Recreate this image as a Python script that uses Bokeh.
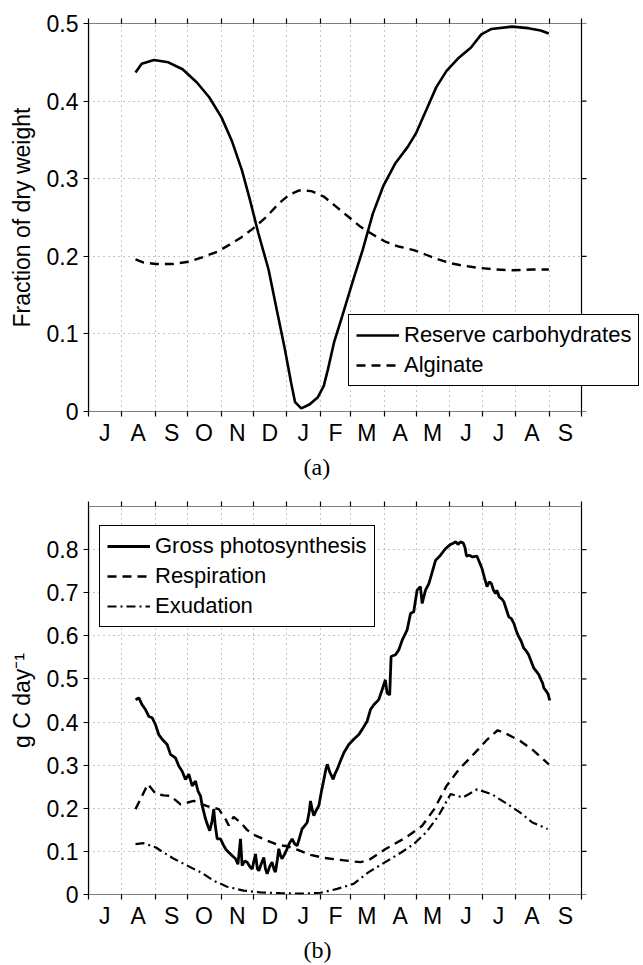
from bokeh.plotting import figure
from bokeh.models import (Range1d, FixedTicker, LinearAxis, NumeralTickFormatter,
                          Legend, LegendItem, BoxAnnotation)
from bokeh.layouts import column
from bokeh.embed import file_html
from bokeh.resources import INLINE

# ---------------- data ----------------
month_letters = ["J", "A", "S", "O", "N", "D", "J", "F", "M", "A", "M", "J", "J", "A", "S"]
month_starts = [0, 31, 62, 92, 123, 153, 184, 215, 243, 274, 304, 335, 365, 396, 427, 457]

# (a) Reserve carbohydrates (day since 1 July, fraction of dry weight)
carb_day = [43.6, 49.3, 60.7, 74.0, 87.2, 100.5, 111.9, 123.3, 132.8, 142.2, 149.8, 157.4,
            166.9, 174.5, 182.1, 187.8, 191.5, 197.2, 204.8, 212.4, 218.1, 221.9, 227.6,
            235.2, 244.6, 254.1, 263.6, 273.1, 284.5, 295.9, 303.4, 312.9, 322.4, 331.9,
            343.3, 354.6, 364.1, 373.6, 392.6, 407.7, 419.1, 426.7]
carb_val = [0.437, 0.448, 0.453, 0.450, 0.441, 0.424, 0.405, 0.379, 0.349, 0.311, 0.272, 0.230,
            0.183, 0.131, 0.080, 0.037, 0.012, 0.004, 0.009, 0.018, 0.033, 0.054, 0.089,
            0.123, 0.166, 0.208, 0.255, 0.290, 0.320, 0.341, 0.358, 0.388, 0.418, 0.439,
            0.456, 0.469, 0.486, 0.493, 0.496, 0.494, 0.491, 0.487]

# (a) Alginate
alg_day = [43.6, 51.2, 62.6, 77.8, 93.0, 108.1, 119.5, 130.9, 142.2, 153.6, 165.0, 176.4,
           185.9, 195.3, 206.7, 218.1, 229.5, 240.9, 252.2, 263.6, 275.0, 286.4, 301.5,
           312.9, 324.3, 335.7, 347.0, 362.2, 377.4, 392.6, 411.5, 426.7]
alg_val = [0.196, 0.192, 0.190, 0.190, 0.193, 0.200, 0.206, 0.215, 0.225, 0.237, 0.251, 0.268,
           0.279, 0.285, 0.284, 0.277, 0.264, 0.251, 0.238, 0.228, 0.219, 0.213, 0.208,
           0.202, 0.196, 0.191, 0.188, 0.185, 0.183, 0.182, 0.183, 0.183]

# (b) Gross photosynthesis (g C per day)
gp_day = [43.6, 46.7, 49.7, 52.8, 55.9, 59.0, 62.1, 65.1, 68.3, 72.9, 76.0, 80.6, 83.7, 86.8,
          89.9, 93.0, 96.1, 99.2, 101.5, 103.8, 105.4, 107.0, 108.5, 110.5, 112.4, 114.5,
          116.1, 117.5, 119.3, 122.4, 125.0, 127.0, 129.0, 131.6, 134.0, 136.3, 138.5, 140.9,
          142.4, 145.0, 147.1, 149.5, 151.7, 154.8, 156.5, 157.9, 160.0, 162.5, 164.0, 165.6,
          168.0, 170.2, 172.0, 173.3, 175.0, 176.4, 178.0, 179.5, 182.0, 184.1, 186.5, 188.8,
          191.0, 193.4, 196.0, 198.0, 200.5, 202.7, 204.5, 205.8, 207.5, 208.9, 211.0, 213.5,
          216.0, 218.2, 220.0, 221.3, 223.5, 226.8, 228.5, 230.5, 233.6, 236.7, 241.3, 245.9,
          250.6, 253.7, 258.3, 261.4, 264.5, 269.1, 272.2, 275.2, 276.8, 279.2, 280.5, 284.6,
          287.6, 290.8, 295.4, 298.5, 301.5, 304.6, 307.7, 309.3, 312.4, 315.5, 318.6, 321.7,
          326.3, 330.9, 335.6, 338.0, 340.5, 342.5, 344.8, 347.5, 349.0, 350.4, 353.0, 356.0,
          360.0, 362.5, 364.8, 367.0, 369.4, 371.5, 373.5, 375.5, 377.3, 378.5, 380.8, 383.0,
          385.0, 387.5, 389.6, 392.0, 394.3, 396.5, 398.8, 401.0, 403.5, 405.5, 408.0, 410.5,
          412.8, 415.0, 417.4, 419.5, 421.0, 422.1, 424.5, 426.0, 427.6]
gp_val = [0.452, 0.456, 0.440, 0.429, 0.413, 0.410, 0.394, 0.371, 0.360, 0.348, 0.325, 0.317,
          0.298, 0.286, 0.267, 0.279, 0.252, 0.263, 0.240, 0.229, 0.206, 0.190, 0.175, 0.160,
          0.148, 0.170, 0.198, 0.160, 0.129, 0.129, 0.115, 0.106, 0.100, 0.094, 0.088, 0.083,
          0.070, 0.129, 0.067, 0.078, 0.075, 0.065, 0.059, 0.094, 0.060, 0.055, 0.070, 0.086,
          0.060, 0.048, 0.065, 0.075, 0.058, 0.052, 0.080, 0.106, 0.090, 0.083, 0.095, 0.106,
          0.120, 0.129, 0.118, 0.113, 0.135, 0.152, 0.160, 0.167, 0.190, 0.217, 0.195, 0.183,
          0.195, 0.206, 0.240, 0.267, 0.290, 0.302, 0.285, 0.267, 0.280, 0.290, 0.310, 0.329,
          0.348, 0.360, 0.371, 0.383, 0.402, 0.429, 0.440, 0.452, 0.475, 0.498, 0.467, 0.463,
          0.552, 0.556, 0.567, 0.590, 0.614, 0.652, 0.656, 0.706, 0.714, 0.675, 0.706, 0.721,
          0.748, 0.775, 0.787, 0.802, 0.812, 0.815, 0.818, 0.812, 0.818, 0.815, 0.805, 0.785,
          0.787, 0.783, 0.785, 0.770, 0.756, 0.735, 0.714, 0.725, 0.721, 0.705, 0.698, 0.706,
          0.690, 0.686, 0.679, 0.660, 0.644, 0.640, 0.629, 0.612, 0.598, 0.588, 0.571, 0.566,
          0.556, 0.540, 0.525, 0.518, 0.510, 0.498, 0.490, 0.479, 0.471, 0.465, 0.450]

# (b) Respiration
resp_day = [43.6, 55.0, 62.6, 70.0, 75.9, 85.3, 97.6, 110.0, 120.8, 127.0, 130.0, 134.5,
            141.0, 147.0, 152.0, 160.9, 175.5, 184.0, 193.4, 205.8, 218.2, 230.5, 244.4,
            252.2, 259.8, 275.0, 294.0, 309.1, 320.5, 331.9, 343.3, 358.4, 369.8, 379.3,
            388.8, 400.2, 411.5, 426.7]
resp_val = [0.198, 0.256, 0.233, 0.230, 0.229, 0.209, 0.217, 0.205, 0.198, 0.175, 0.160, 0.180,
            0.167, 0.150, 0.140, 0.130, 0.115, 0.112, 0.104, 0.092, 0.085, 0.081, 0.077,
            0.075, 0.080, 0.105, 0.132, 0.159, 0.198, 0.252, 0.290, 0.329, 0.360, 0.381,
            0.371, 0.356, 0.336, 0.302]

# (b) Exudation
exu_day = [43.6, 51.2, 62.6, 66.7, 79.1, 91.5, 103.8, 116.1, 128.5, 143.9, 159.4, 177.9,
           196.5, 215.0, 230.5, 246.0, 259.8, 275.0, 290.2, 301.5, 312.9, 324.3, 335.7,
           347.0, 360.3, 373.6, 388.8, 400.2, 411.5, 425.6]
exu_val = [0.117, 0.119, 0.109, 0.102, 0.083, 0.067, 0.052, 0.032, 0.018, 0.009, 0.005, 0.003,
           0.002, 0.004, 0.013, 0.025, 0.052, 0.075, 0.098, 0.117, 0.144, 0.182, 0.233,
           0.225, 0.244, 0.233, 0.209, 0.190, 0.167, 0.152]

a_yticks = [0, 0.1, 0.2, 0.3, 0.4, 0.5]
b_yticks = [0, 0.1, 0.2, 0.3, 0.4, 0.5, 0.6, 0.7, 0.8]

# ---------------- styling ----------------
SANS = "Liberation Sans"
SERIF = "Liberation Serif"
TICK_FS = "23px"
W = 643
LEFT = 88          # px to the axes box's left edge
BOX_W = 493        # px width of the axes box
XMAX = month_starts[-1]
# The plotting frame runs to the right edge of the canvas so the legend of (a)
# may overhang the axes box; the box itself is drawn as an annotation.
X_END = XMAX * (W - LEFT) / BOX_W


def make_fig(title, ymax, yticks, ylabel, height, top):
    p = figure(width=W, height=height, output_backend="svg", toolbar_location=None,
               x_range=Range1d(0, X_END), y_range=Range1d(0, ymax),
               min_border_left=LEFT, min_border_right=0, min_border_top=top,
               min_border_bottom=69, title_location="below")
    p.outline_line_color = None
    p.background_fill_color = "white"
    p.border_fill_color = "white"

    mids = [int((month_starts[i] + month_starts[i + 1]) / 2) for i in range(len(month_letters))]
    xax = p.xaxis[0]
    xax.ticker = FixedTicker(ticks=mids, minor_ticks=month_starts)
    xax.major_label_overrides = {m: l for m, l in zip(mids, month_letters)}
    xax.major_tick_line_color = None
    xax.major_tick_out = 5
    xax.major_tick_in = 0
    xax.minor_tick_line_color = "black"
    xax.minor_tick_line_width = 1.2
    xax.minor_tick_out = 5
    xax.minor_tick_in = 0
    xax.major_label_standoff = 3
    xax.major_label_text_font = SANS
    xax.major_label_text_font_size = TICK_FS
    xax.major_label_text_color = "black"
    xax.axis_line_color = None

    yax = p.yaxis[0]
    yax.ticker = FixedTicker(ticks=yticks, minor_ticks=[])
    yax.formatter = NumeralTickFormatter(format="0.[0]")
    yax.major_tick_out = 5
    yax.major_tick_in = 0
    yax.major_tick_line_color = "black"
    yax.major_tick_line_width = 1.2
    yax.minor_tick_line_color = None
    yax.major_label_standoff = 5
    yax.major_label_text_font = SANS
    yax.major_label_text_font_size = TICK_FS
    yax.major_label_text_color = "black"
    yax.axis_label = ylabel
    yax.axis_label_text_font = SANS
    yax.axis_label_text_font_style = "normal"
    yax.axis_label_text_font_size = "23px"
    yax.axis_label_text_color = "black"
    yax.axis_label_standoff = 9
    yax.axis_line_color = "black"
    yax.axis_line_width = 1.2

    # ticks along the top edge (MATLAB box style)
    tax = LinearAxis(ticker=FixedTicker(ticks=[], minor_ticks=month_starts),
                     major_tick_line_color=None, minor_tick_out=5, minor_tick_in=0,
                     minor_tick_line_color="black", minor_tick_line_width=1.2,
                     major_label_standoff=0, axis_line_color=None)
    p.add_layout(tax, "above")

    p.xgrid.ticker = FixedTicker(ticks=month_starts[1:-1])
    p.ygrid.ticker = FixedTicker(ticks=yticks[1:])
    for g in (p.xgrid, p.ygrid):
        g.grid_line_color = "#8a8a8a"
        g.grid_line_dash = "1 4"
        g.grid_line_width = 1

    # blank strip right of the axes box, then the box outline itself
    p.add_layout(BoxAnnotation(left=XMAX, fill_color="white", fill_alpha=1,
                               line_color=None, level="underlay"))
    p.add_layout(BoxAnnotation(left=0, right=XMAX, bottom=0, top=ymax,
                               fill_alpha=0, line_color="black", line_width=1.2,
                               line_alpha=1))
    # ticks along the right edge
    p.ray(x=[XMAX] * len(yticks), y=yticks, length=5, length_units="screen", angle=0,
          line_color="black", line_width=1.2)

    p.title.text = title
    p.title.align = "left"
    p.title.offset = 215
    p.title.text_font = SERIF
    p.title.text_font_size = "24px"
    p.title.text_font_style = "normal"
    p.title.text_color = "black"
    p.title.standoff = 6
    return p


def style_legend(leg):
    leg.border_line_color = "black"
    leg.border_line_width = 1
    leg.border_line_alpha = 1
    leg.background_fill_color = "white"
    leg.background_fill_alpha = 1
    leg.label_text_font = SANS
    leg.label_text_font_size = "22px"
    leg.label_text_color = "black"
    leg.glyph_width = 43
    leg.glyph_height = 20
    leg.padding = 7
    leg.spacing = 4
    leg.label_standoff = 5
    leg.margin = 0


# ---------------- panel (a) ----------------
pa = make_fig("(a)", 0.5, a_yticks, "Fraction of dry weight", 482, 23)
r_carb = pa.line(carb_day, carb_val, line_color="black", line_width=2.6)
r_alg = pa.line(alg_day, alg_val, line_color="black", line_width=2.4, line_dash="9 6")
leg_a = Legend(items=[LegendItem(label="Reserve carbohydrates", renderers=[r_carb]),
                      LegendItem(label="Alginate", renderers=[r_alg])],
               location=(260, 25))
style_legend(leg_a)
pa.add_layout(leg_a)

# ---------------- panel (b) ----------------
pb = make_fig("(b)", 0.9, b_yticks, "g C day\u207b\u00b9", 483, 24)
r_gp = pb.line(gp_day, gp_val, line_color="black", line_width=2.8)
r_resp = pb.line(resp_day, resp_val, line_color="black", line_width=2.4, line_dash="9 6")
r_exu = pb.line(exu_day, exu_val, line_color="black", line_width=2.2, line_dash="9 4 2 4")
leg_b = Legend(items=[LegendItem(label="Gross photosynthesis", renderers=[r_gp]),
                      LegendItem(label="Respiration", renderers=[r_resp]),
                      LegendItem(label="Exudation", renderers=[r_exu])],
               location=(11, 267))
style_legend(leg_b)
pb.add_layout(leg_b)

layout = column(pa, pb, spacing=0)
open("out.html", "w").write(file_html(layout, INLINE))
